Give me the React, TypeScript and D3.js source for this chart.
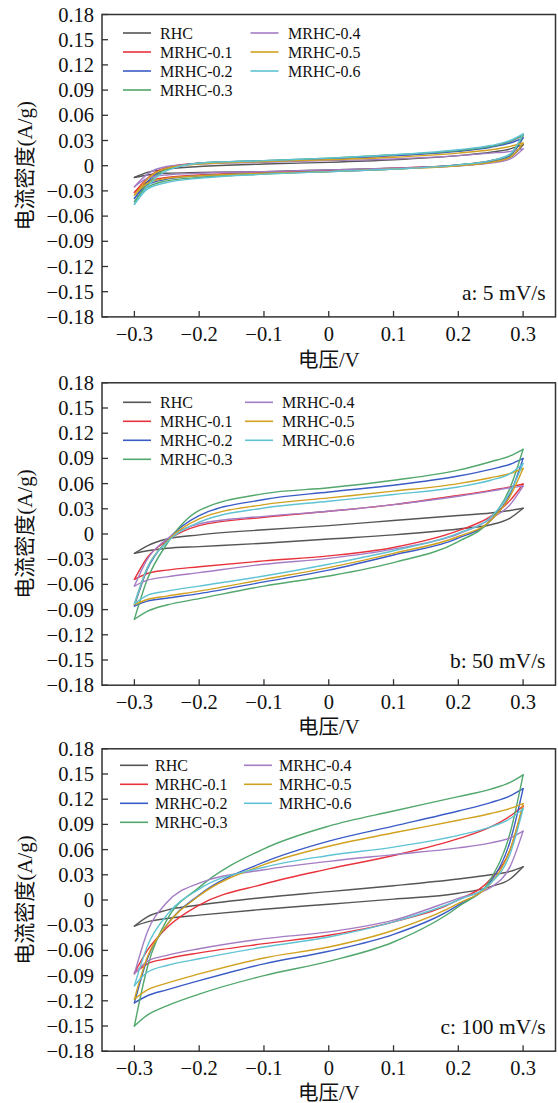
import React, { useEffect } from 'react';
import * as d3 from 'd3';

// Potential grid (V) shared by all branches
const VOLTAGES = [-0.3, -0.28, -0.25, -0.2, -0.1, 0, 0.1, 0.2, 0.25, 0.28, 0.3];
const SERIES = ['RHC', 'MRHC-0.1', 'MRHC-0.2', 'MRHC-0.3', 'MRHC-0.4', 'MRHC-0.5', 'MRHC-0.6'];
const COLORS = ['#555555', '#e8333d', '#3b5cc6', '#52a76c', '#a47cc4', '#d1a220', '#5fc3d3'];
const Y_TICKS = [0.18, 0.15, 0.12, 0.09, 0.06, 0.03, 0, -0.03, -0.06, -0.09, -0.12, -0.15, -0.18];
const X_TICKS = [-0.3, -0.2, -0.1, 0, 0.1, 0.2, 0.3];
const PANEL_LABELS = ['a: 5 mV/s', 'b: 50 mV/s', 'c: 100 mV/s'];

// Panel a, 5 mV/s — forward (upper) and reverse (lower) branches, rows follow SERIES
const A_FORWARD = [
  [-0.014, -0.008, -0.004, -0.001, 0.002, 0.004, 0.007, 0.012, 0.016, 0.020, 0.025],
  [-0.032, -0.015, -0.002, 0.003, 0.005, 0.008, 0.012, 0.018, 0.023, 0.029, 0.036],
  [-0.039, -0.019, -0.003, 0.003, 0.006, 0.008, 0.012, 0.017, 0.022, 0.027, 0.033],
  [-0.043, -0.022, -0.004, 0.003, 0.006, 0.009, 0.013, 0.018, 0.023, 0.029, 0.036],
  [-0.025, -0.010, -0.001, 0.002, 0.004, 0.006, 0.008, 0.012, 0.015, 0.017, 0.020],
  [-0.035, -0.016, -0.003, 0.002, 0.005, 0.007, 0.010, 0.015, 0.019, 0.023, 0.027],
  [-0.046, -0.025, -0.006, 0.003, 0.006, 0.009, 0.013, 0.019, 0.024, 0.030, 0.038],
];
const A_REVERSE = [
  [-0.014, -0.011, -0.009, -0.008, -0.007, -0.005, -0.003, 0.000, 0.004, 0.010, 0.025],
  [-0.032, -0.019, -0.014, -0.011, -0.008, -0.006, -0.003, 0.001, 0.006, 0.013, 0.036],
  [-0.039, -0.023, -0.016, -0.012, -0.009, -0.007, -0.004, 0.001, 0.005, 0.012, 0.033],
  [-0.043, -0.026, -0.018, -0.014, -0.010, -0.007, -0.004, 0.001, 0.006, 0.013, 0.036],
  [-0.025, -0.015, -0.011, -0.009, -0.007, -0.005, -0.003, 0.000, 0.003, 0.008, 0.020],
  [-0.035, -0.021, -0.015, -0.012, -0.009, -0.007, -0.004, 0.000, 0.004, 0.010, 0.027],
  [-0.046, -0.028, -0.020, -0.015, -0.010, -0.007, -0.004, 0.001, 0.006, 0.014, 0.038],
];

// Panel b, 50 mV/s
const B_FORWARD = [
  [-0.023, -0.014, -0.006, -0.001, 0.005, 0.010, 0.016, 0.022, 0.025, 0.028, 0.0306],
  [-0.054, -0.028, -0.008, 0.010, 0.020, 0.027, 0.035, 0.046, 0.052, 0.056, 0.0595],
  [-0.0857, -0.042, -0.008, 0.022, 0.041, 0.050, 0.058, 0.069, 0.077, 0.083, 0.090],
  [-0.1015, -0.054, -0.012, 0.028, 0.048, 0.055, 0.064, 0.076, 0.086, 0.093, 0.1008],
  [-0.062, -0.030, -0.006, 0.012, 0.021, 0.027, 0.035, 0.045, 0.051, 0.055, 0.057],
  [-0.084, -0.040, -0.009, 0.018, 0.035, 0.043, 0.051, 0.060, 0.067, 0.072, 0.078],
  [-0.083, -0.040, -0.010, 0.014, 0.031, 0.039, 0.047, 0.056, 0.064, 0.072, 0.084],
];
const B_REVERSE = [
  [-0.023, -0.020, -0.017, -0.015, -0.011, -0.006, -0.001, 0.006, 0.011, 0.019, 0.0306],
  [-0.054, -0.047, -0.043, -0.039, -0.032, -0.026, -0.016, 0.004, 0.021, 0.040, 0.0595],
  [-0.0857, -0.080, -0.0765, -0.071, -0.057, -0.043, -0.025, -0.005, 0.016, 0.048, 0.090],
  [-0.1015, -0.092, -0.0845, -0.077, -0.062, -0.050, -0.034, -0.009, 0.017, 0.055, 0.1008],
  [-0.062, -0.055, -0.051, -0.046, -0.036, -0.029, -0.018, 0.000, 0.018, 0.035, 0.057],
  [-0.084, -0.078, -0.074, -0.068, -0.054, -0.040, -0.023, -0.003, 0.016, 0.045, 0.078],
  [-0.083, -0.073, -0.068, -0.062, -0.050, -0.036, -0.020, 0.001, 0.020, 0.050, 0.084],
];

// Panel c, 100 mV/s
const C_FORWARD = [
  [-0.031, -0.020, -0.012, -0.006, 0.003, 0.010, 0.017, 0.025, 0.030, 0.034, 0.0395],
  [-0.087, -0.060, -0.033, -0.006, 0.019, 0.037, 0.053, 0.073, 0.087, 0.100, 0.112],
  [-0.1225, -0.070, -0.030, 0.006, 0.045, 0.070, 0.088, 0.106, 0.116, 0.124, 0.1325],
  [-0.150, -0.080, -0.024, 0.015, 0.061, 0.088, 0.106, 0.123, 0.132, 0.140, 0.149],
  [-0.088, -0.038, -0.003, 0.020, 0.036, 0.046, 0.054, 0.062, 0.068, 0.074, 0.082],
  [-0.118, -0.068, -0.030, 0.005, 0.042, 0.064, 0.080, 0.095, 0.103, 0.109, 0.1147],
  [-0.102, -0.055, -0.018, 0.013, 0.039, 0.053, 0.063, 0.077, 0.087, 0.097, 0.1087],
];
const C_REVERSE = [
  [-0.031, -0.026, -0.022, -0.018, -0.011, -0.005, 0.001, 0.008, 0.016, 0.025, 0.0395],
  [-0.087, -0.076, -0.070, -0.063, -0.052, -0.042, -0.026, 0.000, 0.025, 0.060, 0.112],
  [-0.1225, -0.114, -0.107, -0.096, -0.076, -0.061, -0.041, -0.006, 0.022, 0.070, 0.1325],
  [-0.150, -0.137, -0.126, -0.112, -0.090, -0.073, -0.050, -0.008, 0.025, 0.080, 0.149],
  [-0.088, -0.073, -0.066, -0.058, -0.046, -0.038, -0.024, 0.002, 0.015, 0.040, 0.082],
  [-0.118, -0.107, -0.099, -0.088, -0.069, -0.056, -0.036, -0.004, 0.020, 0.060, 0.1147],
  [-0.102, -0.086, -0.078, -0.070, -0.056, -0.044, -0.026, 0.000, 0.020, 0.055, 0.1087],
];

const PANELS = [
  { fwd: A_FORWARD, rev: A_REVERSE, label: PANEL_LABELS[0] },
  { fwd: B_FORWARD, rev: B_REVERSE, label: PANEL_LABELS[1] },
  { fwd: C_FORWARD, rev: C_REVERSE, label: PANEL_LABELS[2] },
];

// layout
const W = 558;
const H = 1103;
const LEFT = 102;
const RIGHT = 555.5;
const PANEL_TOPS = [14.5, 382.8, 748.8];
const PANEL_H = 302.4;
const XTITLE_DY = [50, 49, 48.5];
const LEGEND = [
  { dy: 18.5, c1: 123, c2: 250.5, t1: 160, t2: 288 },
  { dy: 19.5, c1: 123, c2: 245, t1: 160, t2: 282 },
  { dy: 16.5, c1: 120, c2: 244, t1: 155, t2: 279 },
];
const SERIF = "'Liberation Serif', 'Times New Roman', serif";
const CJK = "'Liberation Serif', 'Noto Sans CJK SC', serif";
const fmt = (v: number) => (v === 0 ? '0' : (v < 0 ? '\u2212' : '') + String(Math.abs(v)));

function Panel({ idx }: { idx: number }) {
  const p = PANELS[idx];
  const top = PANEL_TOPS[idx];
  const bottom = top + PANEL_H;
  const x = d3.scaleLinear().domain([-0.35, 0.35]).range([LEFT, RIGHT]);
  const y = d3.scaleLinear().domain([-0.18, 0.18]).range([bottom, top]);
  const line = d3
    .line<[number, number]>()
    .x((d) => x(d[0]))
    .y((d) => y(d[1]))
    .curve(d3.curveMonotoneX);
  const lg = LEGEND[idx];
  const rowH = 19;
  return (
    <g>
      {/* curves */}
      {SERIES.map((s, i) => {
        const up = VOLTAGES.map((v, k) => [v, p.fwd[i][k]] as [number, number]);
        const dn = VOLTAGES.map((v, k) => [v, p.rev[i][k]] as [number, number]);
        return (
          <g key={s} fill="none" stroke={COLORS[i]} strokeWidth={1.4} strokeLinejoin="round" strokeLinecap="round">
            <path d={line(up) || ''} />
            <path d={line(dn) || ''} />
          </g>
        );
      })}
      {/* frame */}
      <rect x={LEFT} y={top} width={RIGHT - LEFT} height={PANEL_H} fill="none" stroke="#333" strokeWidth={1.5} />
      {/* y ticks */}
      {Y_TICKS.map((t) => (
        <g key={'y' + t}>
          <line x1={LEFT} x2={LEFT + 6} y1={y(t)} y2={y(t)} stroke="#333" strokeWidth={1.3} />
          <text x={LEFT - 8} y={y(t) + 7} textAnchor="end" fontFamily={SERIF} fontSize={20.5} fill="#111">
            {fmt(t)}
          </text>
        </g>
      ))}
      {/* x ticks */}
      {X_TICKS.map((t) => (
        <g key={'x' + t}>
          <line x1={x(t)} x2={x(t)} y1={bottom} y2={bottom - 6} stroke="#333" strokeWidth={1.3} />
          <text x={x(t)} y={bottom + 24} textAnchor="middle" fontFamily={SERIF} fontSize={20.5} fill="#111">
            {fmt(t)}
          </text>
        </g>
      ))}
      {/* axis titles */}
      <text
        x={0}
        y={0}
        transform={`translate(32, ${top + PANEL_H / 2}) rotate(-90)`}
        textAnchor="middle"
        fontFamily={CJK}
        fontSize={21}
        fill="#111"
      >
        电流密度(A/g)
      </text>
      <text x={(LEFT + RIGHT) / 2} y={bottom + XTITLE_DY[idx]} textAnchor="middle" fontFamily={CJK} fontSize={20.5} fill="#111">
        电压/V
      </text>
      {/* panel label */}
      <text x={RIGHT - 10} y={bottom - 17} textAnchor="end" fontFamily={SERIF} fontSize={21.5} fill="#111">
        {p.label}
      </text>
      {/* legend */}
      {SERIES.map((s, i) => {
        const col = i < 4 ? 0 : 1;
        const row = i < 4 ? i : i - 4;
        const ly = top + lg.dy + row * rowH;
        const lx = col === 0 ? lg.c1 : lg.c2;
        const tx = col === 0 ? lg.t1 : lg.t2;
        return (
          <g key={'lg' + s}>
            <line x1={lx} x2={lx + 28} y1={ly} y2={ly} stroke={COLORS[i]} strokeWidth={1.6} />
            <text x={tx} y={ly + 5.5} fontFamily={SERIF} fontSize={16} fill="#111">
              {s}
            </text>
          </g>
        );
      })}
    </g>
  );
}

export default function App() {
  useEffect(() => {
    document.body.style.margin = '0';
  }, []);
  return (
    <svg width={W} height={H} style={{ display: 'block', position: 'absolute', left: 0, top: 0, background: '#fff' }}>
      <rect x={0} y={0} width={W} height={H} fill="#fff" />
      {[0, 1, 2].map((i) => (
        <Panel key={i} idx={i} />
      ))}
    </svg>
  );
}
